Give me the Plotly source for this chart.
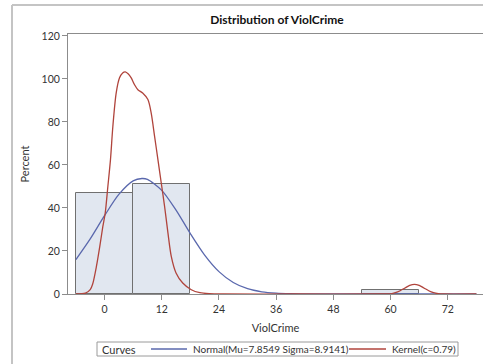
import plotly.graph_objects as go

# ---------------- data ----------------
bin_centers = [0, 12, 60]
bin_percent = [47.06, 50.98, 1.96]
bin_width = 12

normal_x = [-6, -3, 0, 3, 6, 7.85, 9, 12, 15, 18, 21, 24, 27, 30, 33, 36, 39, 42, 45, 50, 60, 70, 78]
normal_y = [16.0, 25.6, 36.4, 46.3, 52.6, 53.7, 53.3, 48.2, 39.0, 28.1, 18.1, 10.4, 5.35, 2.45,
            1.0, 0.37, 0.12, 0.03, 0.0, 0.0, 0.0, 0.0, 0.0]

kernel_x = [-6, -4, -3, -2.5, -1.7, -1, -0.35, 0.15, 0.7, 1.25, 1.75, 2.45, 3.15, 3.8, 4.35,
            5.0, 5.6, 6.3, 7.0, 8.0, 9.1, 9.8, 10.5, 11.2, 11.9, 12.6, 13.3, 14.0, 15.0, 16.4,
            18.2, 20, 22, 25, 40, 58, 60, 61, 62, 63, 64, 65, 66, 67, 68, 69, 70, 71, 78]
kernel_y = [0, 0.4, 2.0, 4.5, 12.8, 22, 31.4, 37.7, 50, 62.5, 78, 93.5, 100.5, 102.8, 103.3,
            102.3, 100.5, 97.3, 95.0, 93.5, 90.4, 84, 73.3, 62.5, 51.6, 40.7, 28.4, 17.5, 9.8, 5.1,
            2.0, 0.6, 0.15, 0, 0, 0, 0.1, 0.6, 1.5, 2.8, 4.0, 4.5, 4.0, 2.8, 1.5, 0.6, 0.15, 0, 0]

x_ticks = [0, 12, 24, 36, 48, 60, 72]
y_ticks = [0, 20, 40, 60, 80, 100, 120]

title_text = "Distribution of ViolCrime"
x_title = "ViolCrime"
y_title = "Percent"
legend_title = "Curves"
normal_name = "Normal(Mu=7.8549 Sigma=8.9141)"
kernel_name = "Kernel(c=0.79)"

# ---------------- style ----------------
FONT = "Lato"
TXT = "#333333"
AXIS = "#8c8c8c"
BLUE = "#5a68ad"
RED = "#b0443c"

W, H = 483, 364
L, T, B = 68, 34, 70
PW, PH = W - L, H - T - B


def px_x(p):
    return (p - L) / PW


def px_y(p):
    return (H - B - p) / PH


fig = go.Figure()
fig.add_trace(go.Bar(x=bin_centers, y=bin_percent, width=bin_width,
                     marker=dict(color="#e1e7f0", line=dict(color="#707070", width=1)),
                     showlegend=False, hoverinfo="skip"))
fig.add_trace(go.Scatter(x=normal_x, y=normal_y, mode="lines", name=normal_name,
                         line=dict(color=BLUE, width=1.3, shape="spline", smoothing=0.8),
                         showlegend=False))
fig.add_trace(go.Scatter(x=kernel_x, y=kernel_y, mode="lines", name=kernel_name,
                         line=dict(color=RED, width=1.3, shape="spline", smoothing=0.8),
                         showlegend=False))

fig.update_layout(
    width=W, height=H,
    margin=dict(l=L, r=0, t=T, b=B, pad=0),
    paper_bgcolor="white", plot_bgcolor="white",
    font=dict(family=FONT, size=10, color=TXT),
    bargap=0,
    title=dict(text="<b>" + title_text + "</b>", x=(277) / W, xanchor="center",
               y=1 - 20 / H, yanchor="middle", font=dict(size=12, color="#111111")),
    xaxis=dict(range=[-7.66, 79.38], tickvals=x_ticks, ticks="outside", ticklen=5,
               tickcolor=AXIS, showline=True, linecolor=AXIS, linewidth=1, mirror=True,
               showgrid=False, zeroline=False, tickfont=dict(size=10.5, color=TXT),
               title=dict(text=x_title, standoff=10, font=dict(size=11, color=TXT))),
    yaxis=dict(range=[0, 120.9], tickvals=y_ticks, ticks="outside", ticklen=5,
               tickcolor=AXIS, showline=True, linecolor=AXIS, linewidth=1,
               showgrid=False, zeroline=False, tickfont=dict(size=10.5, color=TXT),
               title=dict(text=y_title, standoff=9, font=dict(size=11, color=TXT))),
)

# outer frame (cropped on right/bottom)
fig.add_shape(type="line", xref="paper", yref="paper", x0=px_x(12), x1=px_x(483),
              y0=px_y(5), y1=px_y(5), line=dict(color="#c4c4c4", width=2))
fig.add_shape(type="line", xref="paper", yref="paper", x0=px_x(12), x1=px_x(12),
              y0=px_y(5), y1=px_y(364), line=dict(color="#c4c4c4", width=2))

# legend box
ly = px_y(349)
fig.add_shape(type="rect", xref="paper", yref="paper", x0=px_x(97), x1=px_x(458),
              y0=px_y(342), y1=px_y(356), line=dict(color="#9a9a9a", width=1),
              fillcolor="white")
fig.add_annotation(xref="paper", yref="paper", x=px_x(100), y=ly, text=legend_title,
                   showarrow=False, xanchor="left", yanchor="middle",
                   font=dict(size=11, color=TXT))
fig.add_shape(type="line", xref="paper", yref="paper", x0=px_x(151), x1=px_x(187),
              y0=ly, y1=ly, line=dict(color=BLUE, width=1.3))
fig.add_annotation(xref="paper", yref="paper", x=px_x(191), y=ly, text=normal_name,
                   showarrow=False, xanchor="left", yanchor="middle",
                   font=dict(size=10, color=TXT))
fig.add_shape(type="line", xref="paper", yref="paper", x0=px_x(349), x1=px_x(386),
              y0=ly, y1=ly, line=dict(color=RED, width=1.3))
fig.add_annotation(xref="paper", yref="paper", x=px_x(390), y=ly, text=kernel_name,
                   showarrow=False, xanchor="left", yanchor="middle",
                   font=dict(size=10, color=TXT))

fig.write_html("out.html")
